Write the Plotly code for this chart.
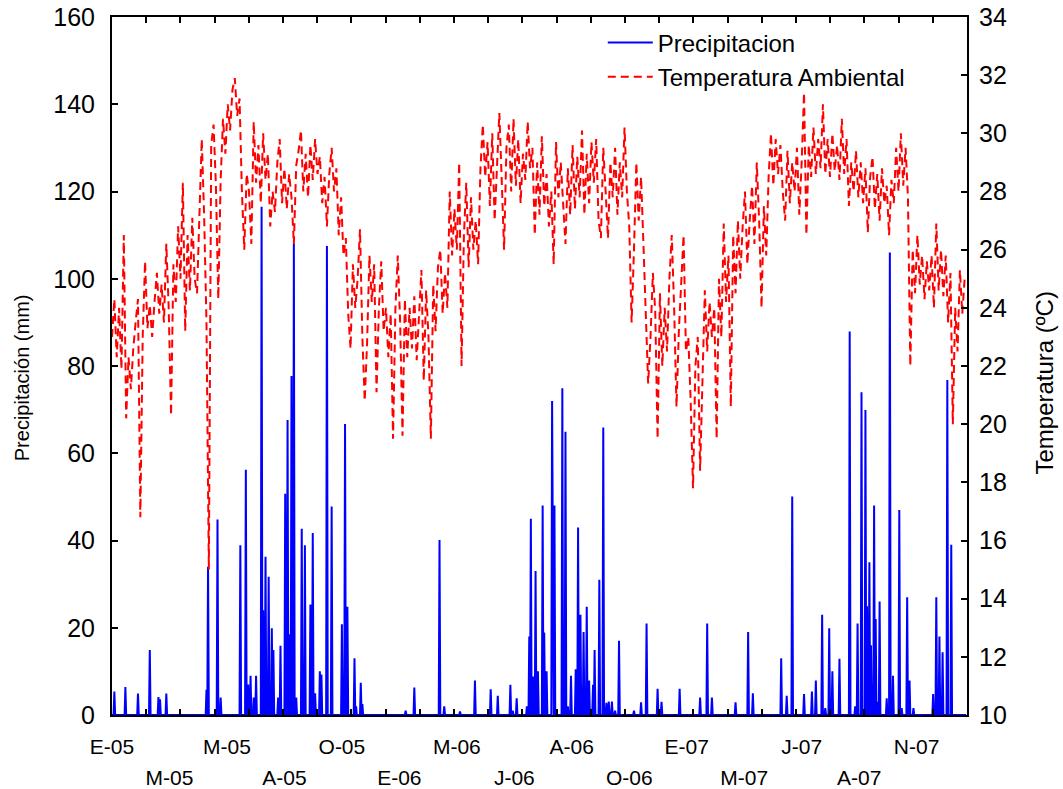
import plotly.graph_objects as go

# Day index: 0 = 1 Jan 2005
# Daily precipitation events (day, mm); all other days are zero
rain_day = [3, 17, 33, 48, 59, 61, 69, 120, 122, 134, 138, 163, 170, 173, 176, 180, 183,
            190, 192, 195, 199, 203, 205, 211, 214, 220, 223, 226, 228, 231, 234, 241, 245,
            252, 255, 258, 264, 266, 273, 279, 292, 296, 299, 308, 310, 316, 318,
            373, 384, 416, 422, 442, 461, 481, 490, 506, 509, 514, 527, 530, 532, 535, 538,
            541, 547, 549, 552, 559, 560, 562, 572, 576, 579, 583, 589, 592, 595, 599, 603,
            606, 611, 613, 619, 624, 628, 631, 635, 639, 644, 663, 672, 679, 693, 698, 721,
            747, 756, 762, 792, 808, 814, 850, 857, 864, 879, 889, 894, 902, 906, 911, 915,
            924, 937, 944, 947, 952, 957, 959, 962, 964, 968, 970, 972, 975, 984, 988, 992,
            1000, 1003, 1010, 1013, 1018, 1043, 1047, 1051, 1055, 1061, 1066]
rain_mm = [5.4, 6.4, 4.9, 14.9, 4.1, 3.6, 4.9, 5.8, 34.0, 44.8, 4.0, 38.9, 56.2, 7.0, 9.0, 4.0, 9.0,
           116.5, 24.0, 36.3, 31.7, 19.9, 14.9, 4.0, 15.9, 50.7, 67.6, 18.5, 77.7, 108.0, 4.0, 42.7, 38.9,
           25.3, 41.7, 5.0, 10.0, 9.3, 107.5, 47.8, 20.8, 66.7, 24.8, 13.0, 2.0, 7.4, 2.5,
           1.0, 6.3, 40.1, 2.0, 0.8, 7.9, 5.9, 4.4, 6.9, 1.0, 3.8, 2.0, 18.0, 45.0, 8.8, 33.0,
           10.0, 48.0, 18.9, 10.0, 72.0, 20.6, 48.0, 74.9, 64.9, 2.0, 9.0, 10.5, 43.0, 23.0, 19.0, 24.8,
           7.9, 6.9, 14.9, 31.0, 65.9, 2.8, 3.1, 3.1, 1.0, 17.0, 1.0, 2.9, 21.0, 6.0, 3.0, 6.0,
           4.0, 21.0, 4.0, 2.9, 19.0, 5.0, 13.0, 4.4, 50.1, 4.8, 5.4, 7.9, 23.0, 1.6, 19.9, 10.0,
           12.9, 87.9, 2.0, 21.0, 74.0, 69.9, 24.9, 35.0, 16.0, 48.0, 22.0, 3.0, 26.0, 3.8, 106.0, 9.0,
           47.0, 1.6, 27.0, 7.9, 1.6, 4.8, 27.0, 18.0, 14.4, 76.8, 39.0]

# Ambient temperature (ºC), one reading every 3 days, rows of 30 days
temp_step = 3
temp_c = [
    23.0, 24.3, 22.3, 24.0, 21.9, 26.5, 20.2, 22.3, 21.2, 22.6,   # d0
    23.5, 24.3, 16.8, 23.0, 25.6, 23.3, 24.1, 23.0, 24.2, 25.2,   # d30
    23.8, 24.8, 23.5, 26.2, 24.0, 20.3, 25.5, 24.2, 26.8, 25.0,   # d60
    28.3, 23.2, 26.5, 24.6, 27.1, 25.0, 24.5, 27.5, 29.8, 27.2,   # d90
    23.5, 15.0, 29.6, 30.3, 28.2, 24.3, 28.4, 30.5, 29.3, 31.0,   # d120
    30.1, 31.5, 31.9, 30.6, 31.2, 28.0, 26.0, 28.6, 28.0, 26.2,   # d150
    30.4, 28.3, 29.6, 27.6, 30.0, 28.4, 29.3, 26.8, 28.0, 27.3,   # d180
    29.0, 29.8, 27.6, 28.8, 27.4, 28.6, 27.8, 26.2, 28.9, 29.4,   # d210
    30.1, 28.0, 29.3, 27.8, 29.6, 28.4, 29.8, 28.6, 29.2, 27.6,   # d240
    28.5, 26.8, 28.6, 29.5, 28.0, 28.8, 26.5, 27.8, 25.8, 26.4,   # d270
    23.8, 22.6, 25.5, 24.0, 25.0, 26.7, 23.0, 20.8, 22.8, 25.8,   # d300
    24.2, 25.5, 21.1, 24.0, 25.6, 23.2, 24.0, 22.3, 23.8, 19.5,   # d330
    24.0, 25.8, 23.5, 19.6, 24.3, 22.3, 24.0, 22.6, 24.4, 22.2,   # d360
    23.8, 25.3, 21.5, 24.6, 23.0, 19.5, 24.8, 23.2, 25.4, 26.0,   # d390
    23.8, 25.2, 24.0, 28.0, 25.8, 27.4, 26.0, 29.0, 22.0, 26.5,   # d420
    28.3, 25.4, 27.8, 26.0, 27.0, 25.5, 28.8, 30.3, 28.5, 29.7,   # d450
    27.5, 30.0, 27.0, 29.2, 30.7, 28.4, 26.0, 29.5, 30.3, 28.0,   # d480
    30.5, 28.2, 29.8, 27.6, 29.3, 28.4, 30.4, 28.8, 29.5, 26.5,   # d510
    29.0, 27.2, 29.9, 27.5, 28.6, 26.8, 28.0, 25.5, 29.7, 27.8,   # d540
    29.0, 27.6, 26.2, 28.8, 27.2, 29.6, 27.4, 29.2, 27.8, 30.1,   # d570
    27.2, 29.3, 27.6, 29.7, 28.3, 29.8, 27.0, 26.4, 29.5, 28.0,   # d600
    26.4, 29.0, 27.8, 29.5, 27.2, 29.0, 27.8, 30.2, 28.0, 26.8,   # d630
    23.5, 26.0, 29.0, 27.0, 28.5, 26.2, 24.0, 21.4, 23.0, 25.2,   # d660
    23.9, 19.5, 24.5, 22.0, 24.0, 22.5, 25.0, 26.5, 24.0, 20.6,   # d690
    23.2, 24.8, 26.5, 22.5, 23.0, 20.8, 17.8, 22.0, 23.0, 18.4,   # d720
    22.0, 24.6, 22.5, 24.2, 23.0, 24.0, 19.5, 25.0, 23.0, 26.9,   # d750
    24.2, 25.8, 20.6, 26.5, 24.5, 27.0, 25.0, 26.8, 28.0, 25.5,   # d780
    27.0, 28.2, 26.2, 29.0, 27.0, 24.0, 27.5, 25.8, 28.5, 30.0,   # d810
    28.2, 29.8, 28.6, 29.6, 28.0, 27.0, 29.4, 27.6, 29.0, 28.0,   # d840
    29.5, 27.2, 29.0, 31.4, 26.5, 29.6, 28.5, 30.2, 28.6, 29.8,   # d870
    28.8, 31.0, 28.6, 29.8, 28.5, 30.0, 28.7, 29.6, 28.4, 30.5,   # d900
    28.6, 29.8, 27.5, 29.0, 28.0, 29.4, 27.8, 29.0, 27.6, 28.8,   # d930
    26.6, 28.5, 29.2, 27.4, 28.6, 27.0, 28.8, 27.6, 28.2, 26.5,   # d960
    28.4, 27.6, 29.5, 28.0, 30.0, 28.2, 29.5, 27.8, 22.0, 26.0,   # d990
    24.5, 26.5, 24.8, 25.8, 24.3, 25.6, 24.6, 25.8, 24.0, 26.9,   # d1020
    24.6, 26.0, 24.4, 25.8, 23.5, 25.2, 20.0, 24.0, 22.5, 25.3,   # d1050
    23.8, 25.0,                                                   # d1080
]

# Axis labels every 73 days, split over two rows
label_step = 73
upper_labels = ["E-05", "M-05", "O-05", "M-06", "A-06", "E-07", "J-07", "N-07"]
lower_labels = ["M-05", "A-05", "E-06", "J-06", "O-06", "M-07", "A-07"]

n_days = 1086
rain_series = [0.0] * n_days
for d, v in zip(rain_day, rain_mm):
    rain_series[d] = v
days = list(range(n_days))
temp_days = [i * temp_step for i in range(len(temp_c))]

upper_pos = [2 * i * label_step for i in range(len(upper_labels))]
lower_pos = [(2 * i + 1) * label_step for i in range(len(lower_labels))]

FONT = "Arial, Liberation Sans, sans-serif"
x_range = [0, n_days]

fig = go.Figure()
fig.add_trace(go.Scatter(
    x=days, y=rain_series, mode="lines", name="Precipitacion",
    line=dict(color="#0000ff", width=2), xaxis="x", yaxis="y"))
fig.add_trace(go.Scatter(
    x=temp_days, y=temp_c, mode="lines", name="Temperatura Ambiental",
    line=dict(color="#ff0000", width=2, dash="8px,5px"), xaxis="x", yaxis="y2"))
# carriers for the two rows of date labels
fig.add_trace(go.Scatter(x=upper_pos, y=[None] * len(upper_pos), xaxis="x2", yaxis="y",
                         showlegend=False, hoverinfo="skip"))
fig.add_trace(go.Scatter(x=lower_pos, y=[None] * len(lower_pos), xaxis="x3", yaxis="y",
                         showlegend=False, hoverinfo="skip"))

axis_common = dict(showgrid=False, zeroline=False, automargin=False)
fig.update_layout(
    width=1063, height=789,
    margin=dict(l=112, r=96, t=17, b=74),
    paper_bgcolor="white", plot_bgcolor="white",
    font=dict(family=FONT, color="black"),
    showlegend=True,
    legend=dict(x=0.574, y=0.995, xanchor="left", yanchor="top",
                bgcolor="rgba(0,0,0,0)", borderwidth=0,
                font=dict(size=24, family=FONT), itemwidth=45,
                tracegroupgap=0),
    xaxis=dict(range=x_range, showline=True, linecolor="black", linewidth=2,
               mirror="ticks", ticks="inside", ticklen=6, tickwidth=2, tickcolor="black",
               tick0=0, dtick=n_days / 25, showticklabels=False, **axis_common),
    xaxis2=dict(range=x_range, overlaying="x", anchor="y", side="bottom",
                tickmode="array", tickvals=upper_pos, ticktext=upper_labels,
                ticks="", showline=False, ticklabelstandoff=17,
                tickfont=dict(size=21, family=FONT), **axis_common),
    xaxis3=dict(range=x_range, overlaying="x", anchor="y", side="bottom",
                tickmode="array", tickvals=lower_pos, ticktext=lower_labels,
                ticks="", showline=False, ticklabelstandoff=48,
                tickfont=dict(size=21, family=FONT), **axis_common),
    yaxis=dict(range=[0, 160], dtick=20, showline=True, linecolor="black", linewidth=2,
               ticks="inside", ticklen=6, tickwidth=2, tickcolor="black",
               ticklabelstandoff=10, tickfont=dict(size=25, family=FONT),
               **axis_common),
    yaxis2=dict(range=[10, 34], dtick=2, overlaying="y", side="right", anchor="x",
                showline=True, linecolor="black", linewidth=2,
                ticks="inside", ticklen=6, tickwidth=2, tickcolor="black",
                ticklabelstandoff=5, tickfont=dict(size=25, family=FONT),
                **axis_common),
    annotations=[
        dict(text="Precipitación (mm)", textangle=-90, xref="paper", yref="paper",
             x=-0.106, y=0.483, xanchor="center", yanchor="middle", showarrow=False,
             font=dict(size=20, family=FONT)),
        dict(text="Temperatura (ºC)", textangle=-90, xref="paper", yref="paper",
             x=1.091, y=0.476, xanchor="center", yanchor="middle", showarrow=False,
             font=dict(size=24, family=FONT)),
    ],
)

fig.write_html("out.html")
